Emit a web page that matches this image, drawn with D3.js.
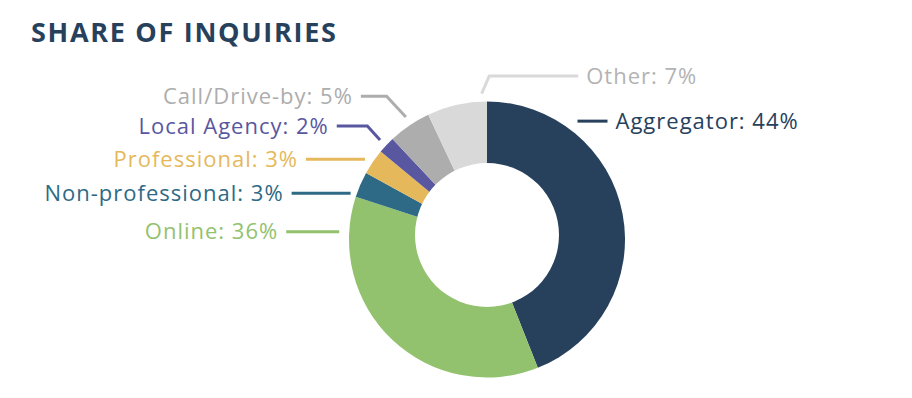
<!DOCTYPE html>
<html>
<head>
<meta charset="utf-8">
<script src="https://cdn.jsdelivr.net/npm/d3@7"></script>
<style>
  html, body { margin: 0; padding: 0; background: #fff; }
  svg { display: block; font-family: "Open Sans", "DejaVu Sans", sans-serif; }
</style>
</head>
<body>
<div id="chart"></div>
<script>
// data
var categories = ["Aggregator", "Online", "Non-professional", "Professional", "Local Agency", "Call/Drive-by", "Other"];
var shares = [44, 36, 3, 3, 2, 5, 7];
var sliceColors = ["#27415c", "#93c26e", "#2e6a85", "#e5b95b", "#5957a0", "#adadad", "#d9d9d9"];
var textColors = ["#27415c", "#93c26e", "#2e6a85", "#e5b95b", "#5957a0", "#adadad", "#b3b3b3"];

// label leader layout (angle in degrees where the line leaves the ring, clockwise from top)
var leaderAngle = [37.4, 273, 288.7, 303.3, 312.9, 326.5, 357.9];
var leaderGap = [11, 10, 6, 8, 8, 9, 8];
var leaderRise = [0, 0, 0, 0, 14, 20.6, 17.6];
var leaderSlant = [0, 0, 0, 0, -12.7, -19.3, 7.6];
var leaderLength = [30, -53, -59, -59, -30.6, -25.7, 89];

var width = 912, height = 398,
    cx = 487, cy = 239.5,
    outerRadius = 138,
    holeRadius = 72, holeShift = -4.5;

var svg = d3.select("#chart")
  .append("svg")
    .attr("width", width)
    .attr("height", height);

svg.append("text")
    .attr("x", 31)
    .attr("y", 42)
    .attr("fill", "#27415c")
    .attr("font-size", 27)
    .attr("font-weight", 700)
    .attr("letter-spacing", 1.7)
    .text("SHARE OF INQUIRIES");

var data = categories.map(function(c, i) { return {name: c, value: shares[i], i: i}; });

var pie = d3.pie()
    .sort(null)
    .value(function(d) { return d.value; });

var arc = d3.arc()
    .innerRadius(0)
    .outerRadius(outerRadius);

var g = svg.append("g")
    .attr("transform", "translate(" + cx + "," + cy + ")");

g.selectAll("path.slice")
  .data(pie(data))
  .enter()
  .append("path")
    .attr("class", "slice")
    .attr("fill", function(d) { return sliceColors[d.data.i]; })
    .attr("d", arc);

// the hole sits a little above the ring centre in the original
g.append("circle")
    .attr("cx", 0)
    .attr("cy", holeShift)
    .attr("r", holeRadius)
    .attr("fill", "#fff");

// leaders + labels
data.forEach(function(d, i) {
  var a = leaderAngle[i] * Math.PI / 180;
  var r = outerRadius + leaderGap[i];
  var p0 = d3.arc().innerRadius(r).outerRadius(r).centroid({startAngle: a, endAngle: a});
  var p1 = [p0[0] + leaderSlant[i], p0[1] - leaderRise[i]];
  var p2 = [p1[0] + leaderLength[i], p1[1]];
  var pts = leaderRise[i] ? [p0, p1, p2] : [p0, p2];

  g.append("path")
      .attr("d", d3.line()(pts))
      .attr("fill", "none")
      .attr("stroke", sliceColors[i])
      .attr("stroke-width", 3);

  var right = leaderLength[i] > 0;
  g.append("text")
      .attr("x", p2[0] + (right ? 8 : -8))
      .attr("y", p2[1])
      .attr("dy", "0.35em")
      .attr("text-anchor", right ? "start" : "end")
      .attr("fill", textColors[i])
      .attr("font-size", 22)
      .attr("letter-spacing", 1)
      .attr("font-weight", i === 0 ? 500 : 400)
      .text(d.name + ": " + d.value + "%");
});
</script>
</body>
</html>
